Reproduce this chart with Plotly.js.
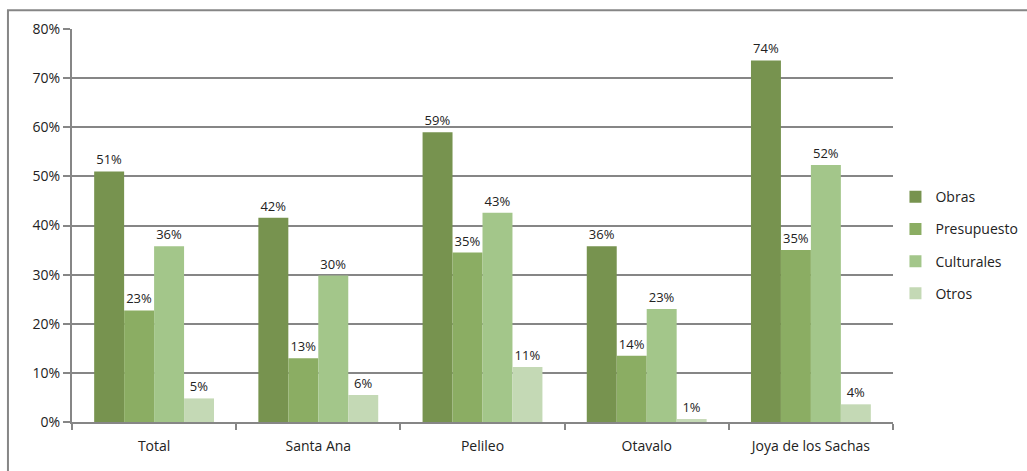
<!DOCTYPE html>
<html>
<head>
<meta charset="utf-8">
<script src="https://cdn.plot.ly/plotly-3.0.1.min.js"></script>
<style>
  body { margin: 0; background: white; }
  #grafico { width: 1027px; height: 471px; }
</style>
</head>
<body>
<div id="grafico"></div>
<script>
    // Datos del gráfico
    const cantones = ['Total', 'Santa Ana', 'Pelileo', 'Otavalo', 'Joya de los Sachas'];
    const obras = [0.51, 0.416, 0.59, 0.358, 0.736];
    const presupuesto = [0.227, 0.13, 0.345, 0.135, 0.35];
    const culturales = [0.358, 0.298, 0.426, 0.23, 0.523];
    const otros = [0.048, 0.055, 0.112, 0.006, 0.036];

    const series = [
        { nombre: 'Obras', valores: obras, color: '#77934F' },
        { nombre: 'Presupuesto', valores: presupuesto, color: '#8BAD63' },
        { nombre: 'Culturales', valores: culturales, color: '#A3C68A' },
        { nombre: 'Otros', valores: otros, color: '#C4D9B5' }
    ];

    const fuente = 'Open Sans, Liberation Sans, sans-serif';

    // Crear trazas
    const trazas = series.map(s => ({
        type: 'bar',
        name: s.nombre,
        legendgroup: s.nombre,
        x: cantones,
        y: s.valores,
        marker: { color: s.color },
        texttemplate: '%{y:.0%}',
        textposition: 'outside',
        cliponaxis: false,
        textfont: { family: fuente, size: 13, color: '#222' },
        hoverinfo: 'x+y+name'
    }));

    // Configurar layout
    const layout = {
        width: 1027,
        height: 471,
        barmode: 'group',
        bargap: 0.27,
        bargroupgap: 0,
        plot_bgcolor: 'white',
        paper_bgcolor: 'white',
        font: { family: fuente, size: 13, color: '#222' },
        margin: { l: 72, r: 134, t: 29, b: 49, autoexpand: false },
        xaxis: {
            type: 'category',
            showline: true,
            linecolor: '#868686',
            linewidth: 2,
            ticks: 'outside',
            tickson: 'boundaries',
            ticklen: 6,
            tickcolor: '#868686',
            tickwidth: 2,
            showgrid: false,
            automargin: false,
            ticklabelstandoff: 10,
            tickfont: { family: fuente, size: 14, color: '#222' }
        },
        yaxis: {
            range: [0, 0.8],
            dtick: 0.1,
            tickformat: '.0%',
            showline: true,
            linecolor: '#868686',
            linewidth: 2,
            ticks: 'outside',
            ticklen: 7,
            tickcolor: '#868686',
            tickwidth: 2,
            gridcolor: '#868686',
            gridwidth: 2,
            zeroline: false,
            automargin: false,
            tickfont: { family: fuente, size: 14, color: '#222' }
        },
        legend: {
            x: 1.003,
            y: 0.45,
            xanchor: 'left',
            yanchor: 'middle',
            font: { family: fuente, size: 14, color: '#222' },
            tracegroupgap: 11,
            itemwidth: 30
        },
        shapes: [{
            type: 'rect',
            xref: 'paper', yref: 'paper',
            x0: -0.078, x1: 1.3,
            y0: -0.2, y1: 1.048,
            line: { color: '#868686', width: 2 },
            layer: 'below'
        }]
    };

    Plotly.newPlot('grafico', trazas, layout, { displayModeBar: false });
</script>
</body>
</html>
